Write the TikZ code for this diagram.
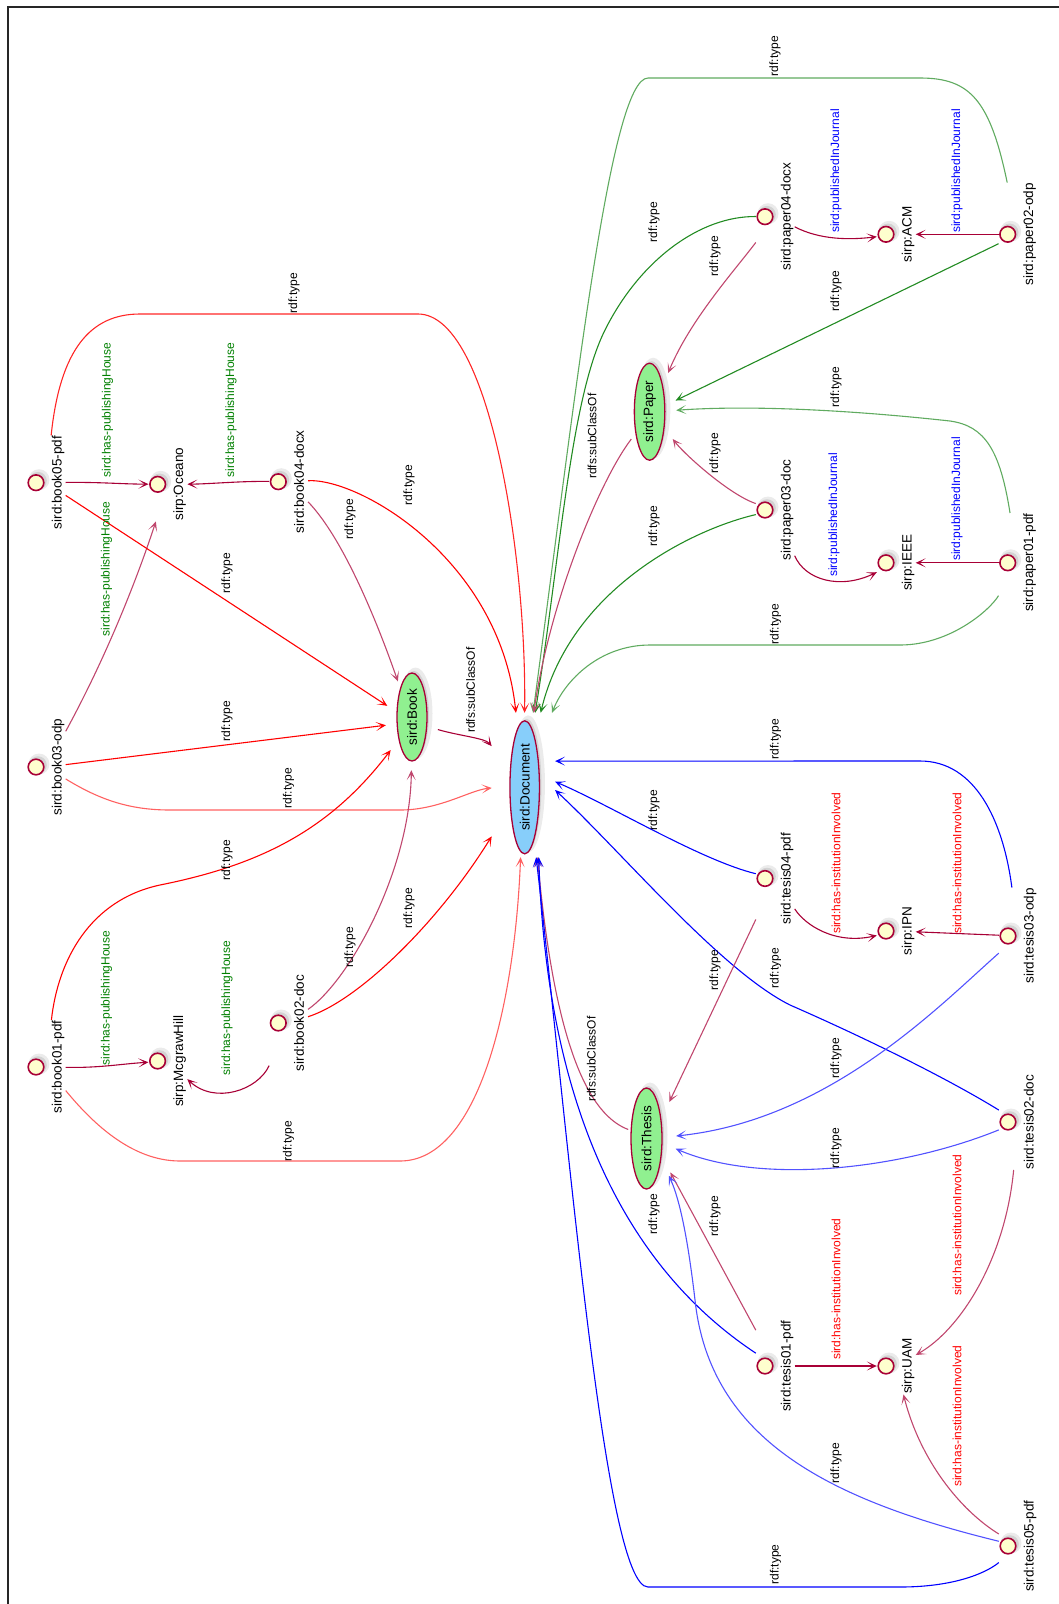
\documentclass[tikz,border=0pt]{standalone}
\usepackage{fontspec}
\setmainfont{Liberation Sans}
\usetikzlibrary{arrows.meta,shapes.geometric,calc}
\definecolor{crim}{HTML}{A80036}
\definecolor{ifill}{HTML}{FEFECE}
\definecolor{gfill}{HTML}{90F090}
\definecolor{bfill}{HTML}{87CEFA}
\definecolor{redE}{HTML}{FF0000}
\definecolor{grnE}{HTML}{228B22}
\definecolor{bluE}{HTML}{0000FF}
\definecolor{grnT}{HTML}{008000}
\colorlet{crimL}{crim!72}
\colorlet{redL}{redE!62}
\colorlet{grnL}{grnE!72}
\colorlet{bluL}{bluE!68}
\newcommand\inst[4]{%
  \fill[gray,opacity=.16] (#2+3,#3-3) circle (10.5pt);
  \fill[gray,opacity=.22] (#2+2,#3-2) circle (8.8pt);
  \draw[icirc] (#2,#3) circle (7.8pt);
  \node[inst,anchor=base] (#1) at (#2+25.5,#3) {#4};}
\newcommand\clsnode[7]{% name, x, y, length, thickness, fill, text
  \fill[gray,opacity=.16] (#2+3.5,#3-3.5) ellipse ({#5/2+2pt} and {#4/2+2pt});
  \fill[gray,opacity=.22] (#2+2,#3-2) ellipse ({#5/2} and {#4/2});
  \node[cls,fill=#6,minimum width=#4pt,minimum height=#5pt] (#1) at (#2,#3) {#7};}
\begin{document}
\begin{tikzpicture}[x=1pt,y=-1pt,
  ptip/.tip={Stealth[length=10pt,width=9pt,inset=6pt]},
  lnk/.style={-ptip,line width=1.1pt},
  inst/.style={rotate=90,inner sep=0.5pt,text height=34pt,text depth=3.5pt,font=\fontsize{13.5}{15}\selectfont},
  icirc/.style={draw=crim,fill=ifill,line width=1.6pt},
  cls/.style={ellipse,rotate=90,draw=crim,line width=1.3pt,inner sep=0pt,font=\fontsize{13.5}{15}\selectfont},
  rbox/.style={rectangle,inner sep=0pt,draw=none},
  ebox/.style={ellipse,inner sep=0pt,draw=none},
  elab/.style={rotate=90,inner sep=0pt,font=\fontsize{12}{14}\selectfont},
  glab/.style={elab,text=grnT},
  blab/.style={elab,text=bluE},
  rlab/.style={elab,text=redE}]
\useasboundingbox (0,0) rectangle (1059,1604);
\draw[line width=1.2pt,black!85] (8,1604) -- (8,7) -- (1059,7);

% class nodes (drawn ellipses)
\clsnode{docE}{524.7}{787.3}{133}{29.5}{bfill}{sird:Document}
\clsnode{bookE}{412}{717}{88}{30}{gfill}{sird:Book}
\clsnode{paperE}{649.6}{411.7}{97}{30.5}{gfill}{sird:Paper}
\clsnode{thesisE}{646.5}{1138.5}{101}{31}{gfill}{sird:Thesis}
% connection boxes of the class nodes
\node[rbox,minimum width=63pt,minimum height=144pt] (docB) at (523.4,785) {};
\node[ebox,minimum width=52pt,minimum height=96pt] (bookB) at (412,722) {};
\node[ebox,minimum width=48pt,minimum height=104pt] (paperB) at (652,412) {};
\node[ebox,minimum width=48pt,minimum height=104pt] (thesisB) at (652,1138.5) {};

% instance nodes
\inst{b5}{36}{482.7}{sird:book05-pdf}
\inst{oc}{157.7}{484.3}{sirp:Oceano}
\inst{b4}{278.3}{481.7}{sird:book04-docx}
\inst{b3}{36}{767}{sird:book03-odp}
\inst{b1}{36}{1067}{sird:book01-pdf}
\inst{mh}{157.6}{1061}{sirp:McgrawHill}
\inst{b2}{278.3}{1023}{sird:book02-doc}
\inst{p4}{765}{216.7}{sird:paper04-docx}
\inst{acm}{886}{234.3}{sirp:ACM}
\inst{p2}{1007.7}{234.3}{sird:paper02-odp}
\inst{p3}{765}{510}{sird:paper03-doc}
\inst{ieee}{886}{562.8}{sirp:IEEE}
\inst{p1}{1007.7}{562.8}{sird:paper01-pdf}
\inst{t4}{765}{878.5}{sird:tesis04-pdf}
\inst{ipn}{886}{931}{sirp:IPN}
\inst{t3}{1008}{936}{sird:tesis03-odp}
\inst{t2}{1008}{1122}{sird:tesis02-doc}
\inst{t1}{765}{1366}{sird:tesis01-pdf}
\inst{uam}{886}{1366}{sirp:UAM}
\inst{t5}{1008}{1546}{sird:tesis05-pdf}

% ---- books
\draw[lnk,crim] (b5) .. controls (100,482) and (120,484) .. (oc);
\draw[lnk,crim] (b4) .. controls (240,481) and (210,484) .. (oc);
\draw[lnk,crimL] (b3) .. controls (110,650) and (140,570) .. (oc);
\draw[lnk,redE] (b5) -- (bookB);
\draw[lnk,redE!85] (b5) .. controls (60,350) and (90,314) .. (140,314) -- (418,314) .. controls (490,314) and (527,560) .. (docB);
\draw[lnk,crimL] (b4) .. controls (345,540) and (380,630) .. (bookB);
\draw[lnk,redE] (b4) .. controls (360,478) and (500,560) .. (docB);
\draw[lnk,redE] (b3) -- (bookB);
\draw[lnk,redL] (b3) .. controls (100,800) and (130,810) .. (170,810) -- (400,810) .. controls (440,810) and (470,790) .. (docB);
\draw[lnk,crim] (bookB) .. controls (460,736) and (485,738) .. (docB);
\draw[lnk,redE] (b1) .. controls (58,960) and (90,900) .. (160,885) .. controls (260,865) and (330,830) .. (bookB);
\draw[lnk,crim] (b1) .. controls (100,1068) and (120,1064) .. (mh);
\draw[lnk,crim] (b2) .. controls (258,1090) and (215,1105) .. (mh);
\draw[lnk,crimL] (b2) .. controls (350,980) and (410,870) .. (bookB);
\draw[lnk,redE] (b2) .. controls (360,1000) and (440,920) .. (docB);
\draw[lnk,redL] (b1) .. controls (90,1120) and (130,1161) .. (180,1161) -- (400,1161) .. controls (480,1161) and (515,1000) .. (docB);
% ---- papers
\draw[lnk,crim] (p4) .. controls (820,240) and (850,240) .. (acm);
\draw[lnk,crim] (p2) -- (acm);
\draw[lnk,grnL] (p2) .. controls (990,100) and (970,78) .. (920,78) -- (648,78) .. controls (610,78) and (575,400) .. (docB);
\draw[lnk,grnE] (p4) .. controls (700,216) and (640,260) .. (605,330) .. controls (570,400) and (560,560) .. (docB);
\draw[lnk,crimL] (p4) .. controls (735,270) and (690,320) .. (paperB);
\draw[lnk,grnE] (p2) -- (paperB);
\draw[lnk,grnL] (p1) .. controls (1000,450) and (985,426) .. (950,421) .. controls (850,410) and (750,405) .. (paperB);
\draw[lnk,crimL] (paperB) .. controls (600,480) and (550,600) .. (docB);
\draw[lnk,crimL] (p3) .. controls (730,495) and (685,455) .. (paperB);
\draw[lnk,grnE] (p3) .. controls (690,530) and (570,590) .. (docB);
\draw[lnk,crim] (p3) .. controls (805,580) and (840,590) .. (ieee);
\draw[lnk,crim] (p1) -- (ieee);
\draw[lnk,grnL] (p1) .. controls (990,610) and (950,645) .. (900,645) -- (650,645) .. controls (600,645) and (565,680) .. (docB);
% ---- theses
\draw[lnk,bluE] (t3) .. controls (1003,820) and (975,761) .. (920,761) -- (docB.37);
\draw[lnk,bluE] (t4) .. controls (700,860) and (610,805) .. (docB.6);
\draw[lnk,bluE] (t2) .. controls (950,1080) and (870,1040) .. (790,1005) .. controls (720,970) and (620,850) .. (docB.-9);
\draw[lnk,crimL] (t4) -- (thesisB);
\draw[lnk,crim] (t3) -- (ipn);
\draw[lnk,crim] (t4) .. controls (805,925) and (835,945) .. (ipn);
\draw[lnk,bluL] (t3) .. controls (940,1005) and (830,1120) .. (thesisB);
\draw[lnk,bluL] (t2) .. controls (900,1170) and (760,1185) .. (thesisB);
\draw[lnk,crimL] (thesisB) .. controls (590,1115) and (555,1050) .. (docB.-79);
\draw[lnk,crimL] (t1) -- (thesisB);
\draw[lnk,bluE] (t1) .. controls (600,1250) and (545,1060) .. (docB.-78);
\draw[lnk,crim] (t1) -- (uam);
\draw[lnk,crimL] (t2) .. controls (1005,1260) and (960,1330) .. (uam);
\draw[lnk,crimL] (t5) .. controls (960,1510) and (920,1460) .. (uam);
\draw[lnk,bluL] (t5) .. controls (830,1500) and (710,1440) .. (695,1300) .. controls (688,1240) and (680,1200) .. (thesisB);
\draw[lnk,bluE] (t5) .. controls (990,1570) and (960,1587) .. (900,1587) -- (648,1587) .. controls (605,1587) and (570,1150) .. (docB.-80);

% ---- edge labels
\node[glab] (l1) at (107.5,410) {sird:has-publishingHouse};
\node[glab] (l2) at (231,410) {sird:has-publishingHouse};
\node[glab] (l3) at (106.4,569) {sird:has-publishingHouse};
\node[elab] (l4) at (227,573) {rdf:type};
\node[elab] (l5) at (294,293) {rdf:type};
\node[elab] (l6) at (350,519) {rdf:type};
\node[elab] (l7) at (409,485) {rdf:type};
\node[elab] (l8) at (227,721) {rdf:type};
\node[elab] (l9) at (288.5,788) {rdf:type};
\node[elab] (l10) at (470.7,690) {rdfs:subClassOf};
\node[elab] (l11) at (227,860) {rdf:type};
\node[glab] (l12) at (106.4,998) {sird:has-publishingHouse};
\node[glab] (l13) at (227,1008) {sird:has-publishingHouse};
\node[elab] (l14) at (350,947) {rdf:type};
\node[elab] (l15) at (409,908) {rdf:type};
\node[elab] (l16) at (288.5,1141) {rdf:type};
\node[blab] (l17) at (836,171) {sird:publishedInJournal};
\node[blab] (l18) at (957,171) {sird:publishedInJournal};
\node[elab] (l19) at (775,56) {rdf:type};
\node[elab] (l20) at (654,222) {rdf:type};
\node[elab] (l21) at (715,256) {rdf:type};
\node[elab] (l22) at (836,291) {rdf:type};
\node[elab] (l23) at (836,387) {rdf:type};
\node[elab] (l24) at (592,436) {rdfs:subClassOf};
\node[elab] (l25) at (715,453) {rdf:type};
\node[elab] (l26) at (654,526) {rdf:type};
\node[blab] (l27) at (834,515) {sird:publishedInJournal};
\node[blab] (l28) at (957,499) {sird:publishedInJournal};
\node[elab] (l29) at (775.6,624) {rdf:type};
\node[elab] (l30) at (775.6,739) {rdf:type};
\node[elab] (l31) at (654,810) {rdf:type};
\node[elab] (l32) at (775.6,968) {rdf:type};
\node[elab] (l33) at (715,970) {rdf:type};
\node[rlab] (l34) at (957,863) {sird:has-institutionInvolved};
\node[rlab] (l35) at (836,863) {sird:has-institutionInvolved};
\node[elab] (l36) at (836,1058) {rdf:type};
\node[elab] (l37) at (836,1148) {rdf:type};
\node[elab] (l38) at (591.4,1059) {rdfs:subClassOf};
\node[elab] (l39) at (715,1216) {rdf:type};
\node[elab] (l40) at (654,1214) {rdf:type};
\node[rlab] (l41) at (836,1289) {sird:has-institutionInvolved};
\node[rlab] (l42) at (957,1225) {sird:has-institutionInvolved};
\node[rlab] (l43) at (957,1416) {sird:has-institutionInvolved};
\node[elab] (l44) at (836,1463) {rdf:type};
\node[elab] (l45) at (775.6,1564.5) {rdf:type};
\end{tikzpicture}
\end{document}
